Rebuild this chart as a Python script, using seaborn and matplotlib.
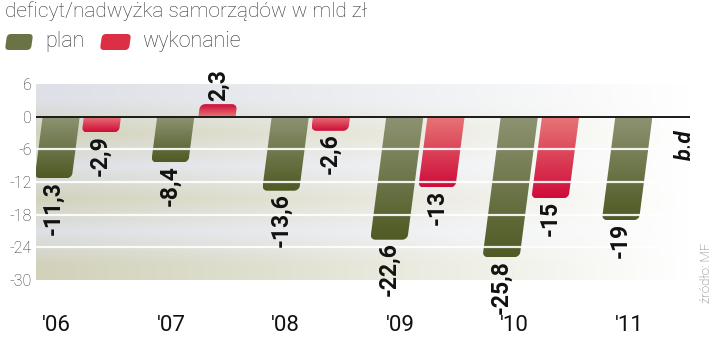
import numpy as np
import pandas as pd
import matplotlib
matplotlib.use("Agg")
import matplotlib.pyplot as plt
import matplotlib.colors as mcolors
from matplotlib.patches import Polygon, FancyBboxPatch
from matplotlib.transforms import Affine2D
import seaborn as sns

# data
lata = ["'06", "'07", "'08", "'09", "'10", "'11"]
plan = [-11.3, -8.4, -13.6, -22.6, -25.8, -19.0]
wykonanie = [-2.9, 2.3, -2.6, -13.0, -15.0, np.nan]
serie = ["plan", "wykonanie"]
y_ticks = [6, 0, -6, -12, -18, -24, -30]

kolory = {"plan": "#6b7440", "wykonanie": "#d8203c"}
gradient = {
    "plan": ("#8d9372", "#4f5a24"),
    "wykonanie": ("#e77676", "#cf0c3a"),
}

df = pd.DataFrame({
    "rok": lata * 2,
    "seria": ["plan"] * len(lata) + ["wykonanie"] * len(lata),
    "wartosc": plan + wykonanie,
}).dropna()

W, H = 720, 360
sns.set_style("white")
plt.rcParams["font.family"] = ["Roboto", "DejaVu Sans"]

fig = plt.figure(figsize=(W / 100, H / 100), dpi=100)
ax = fig.add_axes([36 / W, 1 - 280 / H, 654 / W, 196 / H])

sns.barplot(data=df, x="rok", y="wartosc", hue="seria", hue_order=serie,
            order=lata, palette=kolory, saturation=1, width=0.72, gap=0.1,
            legend=False, ax=ax)

xlim = (-0.40, 5.31)
ylim = (-30, 6)
# slant of bars: x shift per y unit
k = 0.13 * (196 / 36) / (654 / (xlim[1] - xlim[0]))
rx, ry = 0.045, 0.9


def slanted_bar(x0, w, h):
    s = 1 if h > 0 else -1
    pts = [(x0, 0.0)]
    cy = h - s * ry
    t_mid = np.pi - s * np.pi / 2
    t_end = np.pi - s * np.pi
    t1 = np.linspace(np.pi, t_mid, 10)
    pts += [(x0 + rx + rx * np.cos(t), cy + ry * np.sin(t)) for t in t1]
    t2 = np.linspace(t_mid, t_end, 10)
    pts += [(x0 + w - rx + rx * np.cos(t), cy + ry * np.sin(t)) for t in t2]
    pts.append((x0 + w, 0.0))
    return np.array([(x + k * y, y) for x, y in pts])


def fmt(v):
    if float(v).is_integer():
        return f"{int(v)}"
    return f"{v:.1f}".replace(".", ",")


# background bands with fade to white
nx = 300
fade = np.linspace(0, 1, nx) ** 1.1
gray = np.array(mcolors.to_rgb("#dde0e6"))
beige = np.array(mcolors.to_rgb("#d2d2bb"))
rows = []
for i, (top, bottom) in enumerate(zip(y_ticks[:-1], y_ticks[1:])):
    c = gray if i % 2 == 0 else beige
    rows.append(c[None, :] * (1 - fade[:, None]) + fade[:, None])
bg = np.stack(rows[::-1])  # bottom band first
ax.imshow(bg, extent=(xlim[0], xlim[1], ylim[0], ylim[1]), origin="lower",
          aspect="auto", interpolation="bilinear", zorder=0)

plan_rgb = mcolors.to_rgb(kolory["plan"])
for p in list(ax.patches):
    h = p.get_height()
    x0, w = p.get_x(), p.get_width()
    seria = "plan" if np.allclose(p.get_facecolor()[:3], plan_rgb, atol=0.02) else "wykonanie"
    p.set_visible(False)
    if np.isnan(h) or h == 0:
        continue
    verts = slanted_bar(x0, w, h)
    poly = Polygon(verts, closed=True, fill=False, edgecolor="none",
                   transform=ax.transData)
    ax.add_patch(poly)
    lo, hi = min(0, h), max(0, h)
    ys = np.linspace(lo, hi, 64)
    t = np.abs(ys) / abs(h)
    c0 = np.array(mcolors.to_rgb(gradient[seria][0]))
    c1 = np.array(mcolors.to_rgb(gradient[seria][1]))
    grad = (c0[None, :] * (1 - t[:, None]) + c1[None, :] * t[:, None])[:, None, :]
    im = ax.imshow(grad, extent=(verts[:, 0].min(), verts[:, 0].max(), lo, hi),
                   origin="lower", aspect="auto", interpolation="bilinear",
                   zorder=2)
    im.set_clip_path(poly)
    xc = x0 + w / 2 + k * h
    if h < 0:
        ax.text(xc, h - 0.5, fmt(h), rotation=90, ha="center", va="top",
                fontsize=16.5, fontweight="bold", color="#111111", zorder=5,
                clip_on=False)
    else:
        ax.text(xc, h + 0.5, fmt(h), rotation=90, ha="center", va="bottom",
                fontsize=16.5, fontweight="bold", color="#111111", zorder=5,
                clip_on=False)

# brak danych for the last wykonanie slot
ax.text(5.27, -5.2, "b.d", rotation=90, ha="center", va="center",
        fontsize=16, fontweight="bold", fontstyle="italic", color="#111111")

for yv in y_ticks[2:-1]:
    ax.axhline(yv, color="white", lw=1.6, alpha=0.9, zorder=3)
ax.axhline(0, color="#1a1a1a", lw=1.4, zorder=4)

ax.set_xlim(*xlim)
ax.set_ylim(*ylim)
ax.set_yticks(y_ticks, [str(v) for v in y_ticks])
ax.set_xticks(np.arange(len(lata)) - 0.22, lata)
ax.tick_params(axis="y", length=0, pad=3, labelsize=11.5, labelcolor="#333333")
ax.tick_params(axis="x", length=0, pad=25, labelsize=16, labelcolor="#111111")
for lab in ax.get_yticklabels():
    lab.set_fontweight("light")
ax.set_xlabel("")
ax.set_ylabel("")
sns.despine(ax=ax, left=True, bottom=True)

# title and legend
tytul = fig.text(5 / W, 1 - 1 / H, "deficyt/nadwyżka samorządów w mld zł",
                 ha="left", va="top", fontsize=16, fontweight="light",
                 color="#333333")
fig.canvas.draw()
szer = tytul.get_window_extent().width
tytul.set_fontsize(16 * 363 / szer)


def swatch(x, y, w, h, color):
    tr = (Affine2D().translate(-(x + w / 2), -(y + h / 2)).skew_deg(8, 0)
          .translate(x + w / 2, y + h / 2).scale(1 / W, 1 / H) + fig.transFigure)
    box = FancyBboxPatch((x, y), w, h, boxstyle="round,pad=0,rounding_size=4",
                         transform=tr, facecolor=color, edgecolor="none")
    fig.patches.append(box)


swatch(6, H - 50, 26, 16, "#6a7344")
swatch(101, H - 50, 29, 16, "#dc2f45")
fig.text(45 / W, 1 - 42 / H, "plan", ha="left", va="center", fontsize=15.5,
         fontweight="light", color="#333333")
fig.text(142 / W, 1 - 42 / H, "wykonanie", ha="left", va="center",
         fontsize=15.5, fontweight="light", color="#333333")

fig.text(706 / W, 1 - 273 / H, "źródło: MF", rotation=90, ha="center",
         va="center", fontsize=9.5, fontweight="light", color="#666666")

fig.savefig("out.png", dpi=100)
